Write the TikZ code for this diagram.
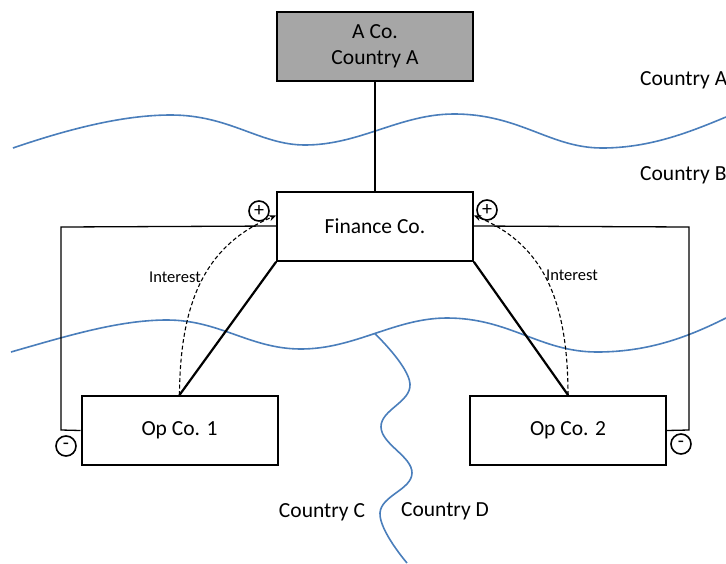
\documentclass[tikz,border=0pt]{standalone}
\usepackage{fontspec}
\setmainfont{Carlito}
\usetikzlibrary{arrows.meta}
\definecolor{border}{HTML}{4A7EBB}
\definecolor{boxgray}{HTML}{A6A6A6}
\begin{document}
\begin{tikzpicture}[x=1pt,y=-1pt,
  entity/.style={draw=black, line width=2pt, minimum width=196pt, minimum height=69pt,
    inner sep=0pt, align=center, font=\fontsize{21.5}{26}\selectfont},
  label/.style={font=\fontsize{21.5}{26}\selectfont, inner sep=0pt},
  small/.style={font=\fontsize{16.5}{19}\selectfont, inner sep=0pt},
  sign/.style={draw=black, circle, line width=1.6pt, minimum size=20pt, inner sep=0pt,
    font=\fontsize{20}{20}\selectfont},
  own/.style={line width=2.2pt, line cap=round},
  flow/.style={line width=1.3pt},
  interest/.style={line width=1.1pt, dashed, dash pattern=on 4pt off 2.5pt, -{Stealth[length=7pt,width=6pt]}},
  borderline/.style={draw=border, line width=1.6pt}]
\useasboundingbox (0,0) rectangle (726,563);
\clip (0,0) rectangle (726,563);

% country borders
\draw[borderline] (13,148) .. controls (80,125) and (130,115) .. (171,115)
  .. controls (230,115) and (260,145) .. (305,145)
  .. controls (360,145) and (400,114) .. (454,114)
  .. controls (520,114) and (550,148) .. (602,148)
  .. controls (650,148) and (690,132) .. (726,117);
\coordinate (fork) at (374.75,333.5);
\draw[borderline] (11,352) .. controls (70,335) and (120,320) .. (167,320)
  .. controls (220,320) and (250,349) .. (301,349)
  .. controls (355,349) and (395,318) .. (447,318)
  .. controls (510,318) and (540,352) .. (597,352)
  .. controls (650,352) and (690,336) .. (726,318);
\draw[borderline] plot[smooth, tension=0.7] coordinates
  {(fork) (410,384) (381,427) (412,473) (380,513) (407,563)};

% companies
\node[entity, fill=boxgray] (aco) at (375,46) {A Co.\\Country A};
\node[entity, fill=white] (fin) at (375,226.5) {Finance Co.};
\node[entity, fill=white] (op1) at (179.5,430.5) {Op Co. 1};
\node[entity, fill=white] (op2) at (568,430.5) {Op Co. 2};

% ownership
\draw[own] (aco.south) -- (fin.north);
\draw[own] (fin.south west) -- (op1.north);
\draw[own] (fin.south east) -- (op2.north);

% interest flows
\draw[interest] (op1.north) .. controls (180,295) and (210,243) .. ([yshift=11pt]fin.west);
\draw[interest] (op2.north) .. controls (568,295) and (540,243) .. ([yshift=11pt]fin.east);
\node[small, anchor=west] (int1) at (149,277) {Interest};
\node[small, anchor=west] (int2) at (546,275) {Interest};

% tax effect loops
\coordinate (l1) at (61,227);
\coordinate (l2) at (61,430);
\coordinate (r1) at (689,227);
\coordinate (r2) at (689,430);
\draw[flow] ([yshift=0.5pt]fin.west) -- (l1) -- (l2) -- (op1.west);
\draw[flow] ([yshift=0.5pt]fin.east) -- (r1) -- (r2) -- (op2.east);
\node[sign] (p1) at (259,211) {+};
\node[sign] (p2) at (487,210) {+};
\node[sign] (m1) at (66,446) {-};
\node[sign] (m2) at (681,444) {-};

% country names
\node[label, anchor=west] (ca) at (640,80) {Country A};
\node[label, anchor=west] (cb) at (640,175) {Country B};
\node[label] (cc) at (322,512) {Country C};
\node[label] (cd) at (445,511) {Country D};
\end{tikzpicture}
\end{document}
